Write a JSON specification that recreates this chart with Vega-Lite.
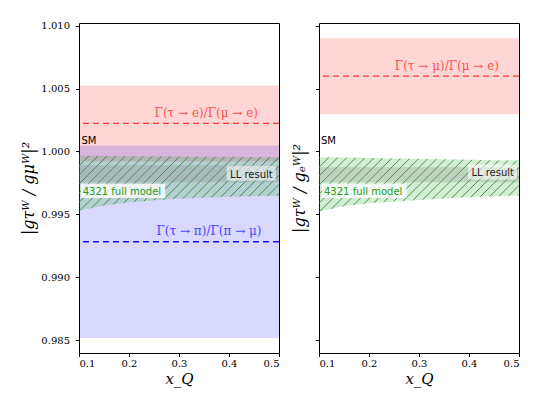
{
 "$schema": "https://vega.github.io/schema/vega-lite/v6.json",
 "background": "white",
 "padding": {"left": 20, "top": 20, "right": 5, "bottom": 5},
 "spacing": 9,
 "datasets": {
  "bands": [
   {"panel": "L", "kind": "red", "x0": 0.1, "x1": 0.5, "lo": 0.99921, "hi": 1.00525, "mid": 1.00223},
   {"panel": "L", "kind": "blue", "x0": 0.1, "x1": 0.5, "lo": 0.98516, "hi": 1.00048, "mid": 0.99282},
   {"panel": "L", "kind": "LL", "x0": 0.1, "x1": 0.5, "lo": 0.99755, "hi": 0.9989},
   {"panel": "R", "kind": "red", "x0": 0.1, "x1": 0.5, "lo": 1.00297, "hi": 1.00901, "mid": 1.00599},
   {"panel": "R", "kind": "LL", "x0": 0.1, "x1": 0.5, "lo": 0.99755, "hi": 0.99875}
  ],
  "model": [
   {"panel": "L", "xq": 0.1, "top": 0.99966, "bottom": 0.99529},
   {"panel": "L", "xq": 0.15, "top": 0.99965, "bottom": 0.9957},
   {"panel": "L", "xq": 0.2, "top": 0.99963, "bottom": 0.99595},
   {"panel": "L", "xq": 0.25, "top": 0.99962, "bottom": 0.99612},
   {"panel": "L", "xq": 0.3, "top": 0.9996, "bottom": 0.99624},
   {"panel": "L", "xq": 0.35, "top": 0.99959, "bottom": 0.99632},
   {"panel": "L", "xq": 0.4, "top": 0.99958, "bottom": 0.99639},
   {"panel": "L", "xq": 0.45, "top": 0.99956, "bottom": 0.99644},
   {"panel": "L", "xq": 0.5, "top": 0.99955, "bottom": 0.99648},
   {"panel": "R", "xq": 0.1, "top": 0.99955, "bottom": 0.99523},
   {"panel": "R", "xq": 0.15, "top": 0.99952, "bottom": 0.99565},
   {"panel": "R", "xq": 0.2, "top": 0.99948, "bottom": 0.99588},
   {"panel": "R", "xq": 0.25, "top": 0.99945, "bottom": 0.99602},
   {"panel": "R", "xq": 0.3, "top": 0.99942, "bottom": 0.99615},
   {"panel": "R", "xq": 0.35, "top": 0.99938, "bottom": 0.99626},
   {"panel": "R", "xq": 0.4, "top": 0.99935, "bottom": 0.99635},
   {"panel": "R", "xq": 0.45, "top": 0.99931, "bottom": 0.99643},
   {"panel": "R", "xq": 0.5, "top": 0.99928, "bottom": 0.9965}
  ],
  "labels": [
   {"panel": "L", "kind": "sm", "text": "SM", "x": 0.1048, "y": 1.00061},
   {"panel": "L", "kind": "red", "text": "Γ(τ → e)/Γ(μ → e)", "x": 0.458, "y": 1.00272},
   {"panel": "L", "kind": "blue", "text": "Γ(τ → π)/Γ(π → μ)", "x": 0.465, "y": 0.99334},
   {"panel": "L", "kind": "model", "text": "4321 full model", "x": 0.1074, "y": 0.99656},
   {"panel": "L", "kind": "ll", "text": "LL result", "x": 0.4874, "y": 0.99791},
   {"panel": "R", "kind": "sm", "text": "SM", "x": 0.104, "y": 1.00061},
   {"panel": "R", "kind": "red", "text": "Γ(τ → μ)/Γ(μ → e)", "x": 0.46, "y": 1.00645},
   {"panel": "R", "kind": "model", "text": "4321 full model", "x": 0.11, "y": 0.99656},
   {"panel": "R", "kind": "ll", "text": "LL result", "x": 0.49, "y": 0.99801}
  ]
 },
 "config": {
  "view": {"stroke": "black", "strokeWidth": 1},
  "axis": {"domain": false, "grid": false, "tickColor": "black", "tickSize": 3.5, "labelColor": "black", "titleColor": "black", "labelFont": "DejaVu Serif", "labelFontSize": 10, "titleFont": "DejaVu Serif", "titleFontWeight": "normal", "titleFontStyle": "italic"},
  "area": {"fill": {"gradient": "linear", "x1": 0, "y1": 0, "x2": 1.1854, "y2": 0.326, "stops": [
   {"offset": 0, "color": "rgba(44,160,44,0.2)"}, {"offset": 0.004, "color": "rgba(34,145,34,0.9)"}, {"offset": 0.008, "color": "rgba(44,160,44,0.2)"},
   {"offset": 0.0357, "color": "rgba(44,160,44,0.2)"}, {"offset": 0.0397, "color": "rgba(34,145,34,0.9)"}, {"offset": 0.0437, "color": "rgba(44,160,44,0.2)"},
   {"offset": 0.0714, "color": "rgba(44,160,44,0.2)"}, {"offset": 0.0754, "color": "rgba(34,145,34,0.9)"}, {"offset": 0.0794, "color": "rgba(44,160,44,0.2)"},
   {"offset": 0.1071, "color": "rgba(44,160,44,0.2)"}, {"offset": 0.1111, "color": "rgba(34,145,34,0.9)"}, {"offset": 0.1151, "color": "rgba(44,160,44,0.2)"},
   {"offset": 0.1429, "color": "rgba(44,160,44,0.2)"}, {"offset": 0.1469, "color": "rgba(34,145,34,0.9)"}, {"offset": 0.1509, "color": "rgba(44,160,44,0.2)"},
   {"offset": 0.1786, "color": "rgba(44,160,44,0.2)"}, {"offset": 0.1826, "color": "rgba(34,145,34,0.9)"}, {"offset": 0.1866, "color": "rgba(44,160,44,0.2)"},
   {"offset": 0.2143, "color": "rgba(44,160,44,0.2)"}, {"offset": 0.2183, "color": "rgba(34,145,34,0.9)"}, {"offset": 0.2223, "color": "rgba(44,160,44,0.2)"},
   {"offset": 0.25, "color": "rgba(44,160,44,0.2)"}, {"offset": 0.254, "color": "rgba(34,145,34,0.9)"}, {"offset": 0.258, "color": "rgba(44,160,44,0.2)"},
   {"offset": 0.2857, "color": "rgba(44,160,44,0.2)"}, {"offset": 0.2897, "color": "rgba(34,145,34,0.9)"}, {"offset": 0.2937, "color": "rgba(44,160,44,0.2)"},
   {"offset": 0.3214, "color": "rgba(44,160,44,0.2)"}, {"offset": 0.3254, "color": "rgba(34,145,34,0.9)"}, {"offset": 0.3294, "color": "rgba(44,160,44,0.2)"},
   {"offset": 0.3571, "color": "rgba(44,160,44,0.2)"}, {"offset": 0.3611, "color": "rgba(34,145,34,0.9)"}, {"offset": 0.3651, "color": "rgba(44,160,44,0.2)"},
   {"offset": 0.3929, "color": "rgba(44,160,44,0.2)"}, {"offset": 0.3969, "color": "rgba(34,145,34,0.9)"}, {"offset": 0.4009, "color": "rgba(44,160,44,0.2)"},
   {"offset": 0.4286, "color": "rgba(44,160,44,0.2)"}, {"offset": 0.4326, "color": "rgba(34,145,34,0.9)"}, {"offset": 0.4366, "color": "rgba(44,160,44,0.2)"},
   {"offset": 0.4643, "color": "rgba(44,160,44,0.2)"}, {"offset": 0.4683, "color": "rgba(34,145,34,0.9)"}, {"offset": 0.4723, "color": "rgba(44,160,44,0.2)"},
   {"offset": 0.5, "color": "rgba(44,160,44,0.2)"}, {"offset": 0.504, "color": "rgba(34,145,34,0.9)"}, {"offset": 0.508, "color": "rgba(44,160,44,0.2)"},
   {"offset": 0.5357, "color": "rgba(44,160,44,0.2)"}, {"offset": 0.5397, "color": "rgba(34,145,34,0.9)"}, {"offset": 0.5437, "color": "rgba(44,160,44,0.2)"},
   {"offset": 0.5714, "color": "rgba(44,160,44,0.2)"}, {"offset": 0.5754, "color": "rgba(34,145,34,0.9)"}, {"offset": 0.5794, "color": "rgba(44,160,44,0.2)"},
   {"offset": 0.6071, "color": "rgba(44,160,44,0.2)"}, {"offset": 0.6111, "color": "rgba(34,145,34,0.9)"}, {"offset": 0.6151, "color": "rgba(44,160,44,0.2)"},
   {"offset": 0.6429, "color": "rgba(44,160,44,0.2)"}, {"offset": 0.6469, "color": "rgba(34,145,34,0.9)"}, {"offset": 0.6509, "color": "rgba(44,160,44,0.2)"},
   {"offset": 0.6786, "color": "rgba(44,160,44,0.2)"}, {"offset": 0.6826, "color": "rgba(34,145,34,0.9)"}, {"offset": 0.6866, "color": "rgba(44,160,44,0.2)"},
   {"offset": 0.7143, "color": "rgba(44,160,44,0.2)"}, {"offset": 0.7183, "color": "rgba(34,145,34,0.9)"}, {"offset": 0.7223, "color": "rgba(44,160,44,0.2)"},
   {"offset": 0.75, "color": "rgba(44,160,44,0.2)"}, {"offset": 0.754, "color": "rgba(34,145,34,0.9)"}, {"offset": 0.758, "color": "rgba(44,160,44,0.2)"},
   {"offset": 0.7857, "color": "rgba(44,160,44,0.2)"}, {"offset": 0.7897, "color": "rgba(34,145,34,0.9)"}, {"offset": 0.7937, "color": "rgba(44,160,44,0.2)"},
   {"offset": 0.8214, "color": "rgba(44,160,44,0.2)"}, {"offset": 0.8254, "color": "rgba(34,145,34,0.9)"}, {"offset": 0.8294, "color": "rgba(44,160,44,0.2)"},
   {"offset": 0.8571, "color": "rgba(44,160,44,0.2)"}, {"offset": 0.8611, "color": "rgba(34,145,34,0.9)"}, {"offset": 0.8651, "color": "rgba(44,160,44,0.2)"},
   {"offset": 0.8929, "color": "rgba(44,160,44,0.2)"}, {"offset": 0.8969, "color": "rgba(34,145,34,0.9)"}, {"offset": 0.9009, "color": "rgba(44,160,44,0.2)"},
   {"offset": 0.9286, "color": "rgba(44,160,44,0.2)"}, {"offset": 0.9326, "color": "rgba(34,145,34,0.9)"}, {"offset": 0.9366, "color": "rgba(44,160,44,0.2)"},
   {"offset": 0.9643, "color": "rgba(44,160,44,0.2)"}, {"offset": 0.9683, "color": "rgba(34,145,34,0.9)"}, {"offset": 0.9723, "color": "rgba(44,160,44,0.2)"},
   {"offset": 1, "color": "rgba(44,160,44,0.2)"}
  ]}}
 },
 "hconcat": [
  {
   "width": 200, "height": 330,
   "layer": [
    {"data": {"name": "bands"}, "transform": [{"filter": "datum.panel === 'L' && datum.kind === 'red'"}],
     "mark": {"type": "rect", "color": "#ff0000", "opacity": 0.16},
     "encoding": {
      "x": {"field": "x0", "type": "quantitative", "scale": {"domain": [0.1, 0.5], "nice": false, "zero": false},
            "axis": {"values": [0.1, 0.2, 0.3, 0.4, 0.5], "format": ".1f", "title": "x_Q", "labelPadding": 2, "titlePadding": 3, "titleFontSize": 15}},
      "x2": {"field": "x1"},
      "y": {"field": "lo", "type": "quantitative", "scale": {"domain": [0.98397, 1.01022], "nice": false, "zero": false},
            "axis": {"values": [0.985, 0.99, 0.995, 1, 1.005, 1.01], "format": ".3f", "title": "|gτᵂ / gμᵂ|²", "titleFontSize": 16, "labelPadding": 6, "titlePadding": 4}},
      "y2": {"field": "hi"}
     }},
    {"data": {"name": "bands"}, "transform": [{"filter": "datum.panel === 'L' && datum.kind === 'blue'"}],
     "mark": {"type": "rect", "color": "#0000ff", "opacity": 0.15},
     "encoding": {"x": {"field": "x0", "type": "quantitative"}, "x2": {"field": "x1"}, "y": {"field": "lo", "type": "quantitative"}, "y2": {"field": "hi"}}},
    {"data": {"name": "model"}, "transform": [{"filter": "datum.panel === 'L'"}],
     "mark": {"type": "area"},
     "encoding": {"x": {"field": "xq", "type": "quantitative"}, "y": {"field": "top", "type": "quantitative"}, "y2": {"field": "bottom"}}},
    {"data": {"name": "bands"}, "transform": [{"filter": "datum.panel === 'L' && datum.kind === 'LL'"}],
     "mark": {"type": "rect", "color": "#808080", "opacity": 0.25},
     "encoding": {"x": {"field": "x0", "type": "quantitative"}, "x2": {"field": "x1"}, "y": {"field": "lo", "type": "quantitative"}, "y2": {"field": "hi"}}},
    {"mark": {"type": "rule", "color": "black", "strokeWidth": 1.2},
     "encoding": {"y": {"datum": 1}}},
    {"data": {"name": "bands"}, "transform": [{"filter": "datum.panel === 'L' && datum.kind === 'red'"}],
     "mark": {"type": "rule", "color": "#ff3535", "strokeWidth": 1.3, "strokeDash": [6, 4]},
     "encoding": {"y": {"field": "mid", "type": "quantitative"}}},
    {"data": {"name": "bands"}, "transform": [{"filter": "datum.panel === 'L' && datum.kind === 'blue'"}],
     "mark": {"type": "rule", "color": "#1010ff", "strokeWidth": 1.3, "strokeDash": [6, 4]},
     "encoding": {"y": {"field": "mid", "type": "quantitative"}}},
    {"data": {"name": "labels"}, "transform": [{"filter": "datum.panel === 'L' && datum.kind === 'model'"}],
     "mark": {"type": "point", "shape": "M-0.2,-1.1L8.25,-1.1L8.25,0.33L-0.2,0.33Z", "size": 400, "filled": true, "color": "white", "opacity": 0.8, "strokeWidth": 0},
     "encoding": {"x": {"field": "x", "type": "quantitative"}, "y": {"field": "y", "type": "quantitative"}}},
    {"data": {"name": "labels"}, "transform": [{"filter": "datum.panel === 'L' && datum.kind === 'll'"}],
     "mark": {"type": "point", "shape": "M-4.6,-1.2L0.3,-1.2L0.3,0.3L-4.6,0.3Z", "size": 400, "filled": true, "color": "white", "opacity": 0.55, "strokeWidth": 0},
     "encoding": {"x": {"field": "x", "type": "quantitative"}, "y": {"field": "y", "type": "quantitative"}}},
    {"data": {"name": "labels"}, "transform": [{"filter": "datum.panel === 'L' && datum.kind === 'sm'"}],
     "mark": {"type": "text", "align": "left", "baseline": "alphabetic", "font": "DejaVu Sans", "fontSize": 10, "color": "black"},
     "encoding": {"x": {"field": "x", "type": "quantitative"}, "y": {"field": "y", "type": "quantitative"}, "text": {"field": "text"}}},
    {"data": {"name": "labels"}, "transform": [{"filter": "datum.panel === 'L' && datum.kind === 'red'"}],
     "mark": {"type": "text", "align": "right", "baseline": "alphabetic", "font": "DejaVu Serif", "fontSize": 12, "color": "#ff5050"},
     "encoding": {"x": {"field": "x", "type": "quantitative"}, "y": {"field": "y", "type": "quantitative"}, "text": {"field": "text"}}},
    {"data": {"name": "labels"}, "transform": [{"filter": "datum.panel === 'L' && datum.kind === 'blue'"}],
     "mark": {"type": "text", "align": "right", "baseline": "alphabetic", "font": "DejaVu Serif", "fontSize": 12, "color": "#4545ff"},
     "encoding": {"x": {"field": "x", "type": "quantitative"}, "y": {"field": "y", "type": "quantitative"}, "text": {"field": "text"}}},
    {"data": {"name": "labels"}, "transform": [{"filter": "datum.panel === 'L' && datum.kind === 'model'"}],
     "mark": {"type": "text", "align": "left", "baseline": "alphabetic", "font": "DejaVu Sans", "fontSize": 10, "color": "#239b23"},
     "encoding": {"x": {"field": "x", "type": "quantitative"}, "y": {"field": "y", "type": "quantitative"}, "text": {"field": "text"}}},
    {"data": {"name": "labels"}, "transform": [{"filter": "datum.panel === 'L' && datum.kind === 'll'"}],
     "mark": {"type": "text", "align": "right", "baseline": "alphabetic", "font": "DejaVu Sans", "fontSize": 10, "color": "#222222"},
     "encoding": {"x": {"field": "x", "type": "quantitative"}, "y": {"field": "y", "type": "quantitative"}, "text": {"field": "text"}}}
   ]
  },
  {
   "width": 200, "height": 330,
   "layer": [
    {"data": {"name": "bands"}, "transform": [{"filter": "datum.panel === 'R' && datum.kind === 'red'"}],
     "mark": {"type": "rect", "color": "#ff0000", "opacity": 0.16},
     "encoding": {
      "x": {"field": "x0", "type": "quantitative", "scale": {"domain": [0.1, 0.5], "nice": false, "zero": false},
            "axis": {"values": [0.1, 0.2, 0.3, 0.4, 0.5], "format": ".1f", "title": "x_Q", "labelPadding": 2, "titlePadding": 3, "titleFontSize": 15}},
      "x2": {"field": "x1"},
      "y": {"field": "lo", "type": "quantitative", "scale": {"domain": [0.98397, 1.01022], "nice": false, "zero": false},
            "axis": {"values": [0.985, 0.99, 0.995, 1, 1.005, 1.01], "labels": false, "title": "|gτᵂ / gₑᵂ|²", "titleFontSize": 16, "titlePadding": 8}},
      "y2": {"field": "hi"}
     }},
    {"data": {"name": "model"}, "transform": [{"filter": "datum.panel === 'R'"}],
     "mark": {"type": "area"},
     "encoding": {"x": {"field": "xq", "type": "quantitative"}, "y": {"field": "top", "type": "quantitative"}, "y2": {"field": "bottom"}}},
    {"data": {"name": "bands"}, "transform": [{"filter": "datum.panel === 'R' && datum.kind === 'LL'"}],
     "mark": {"type": "rect", "color": "#808080", "opacity": 0.25},
     "encoding": {"x": {"field": "x0", "type": "quantitative"}, "x2": {"field": "x1"}, "y": {"field": "lo", "type": "quantitative"}, "y2": {"field": "hi"}}},
    {"mark": {"type": "rule", "color": "black", "strokeWidth": 1.2},
     "encoding": {"y": {"datum": 1}}},
    {"data": {"name": "bands"}, "transform": [{"filter": "datum.panel === 'R' && datum.kind === 'red'"}],
     "mark": {"type": "rule", "color": "#ff3535", "strokeWidth": 1.3, "strokeDash": [6, 4]},
     "encoding": {"y": {"field": "mid", "type": "quantitative"}}},
    {"data": {"name": "labels"}, "transform": [{"filter": "datum.panel === 'R' && datum.kind === 'model'"}],
     "mark": {"type": "point", "shape": "M-0.2,-1.1L8.25,-1.1L8.25,0.33L-0.2,0.33Z", "size": 400, "filled": true, "color": "white", "opacity": 0.8, "strokeWidth": 0},
     "encoding": {"x": {"field": "x", "type": "quantitative"}, "y": {"field": "y", "type": "quantitative"}}},
    {"data": {"name": "labels"}, "transform": [{"filter": "datum.panel === 'R' && datum.kind === 'll'"}],
     "mark": {"type": "point", "shape": "M-4.6,-1.2L0.3,-1.2L0.3,0.3L-4.6,0.3Z", "size": 400, "filled": true, "color": "white", "opacity": 0.55, "strokeWidth": 0},
     "encoding": {"x": {"field": "x", "type": "quantitative"}, "y": {"field": "y", "type": "quantitative"}}},
    {"data": {"name": "labels"}, "transform": [{"filter": "datum.panel === 'R' && datum.kind === 'sm'"}],
     "mark": {"type": "text", "align": "left", "baseline": "alphabetic", "font": "DejaVu Sans", "fontSize": 10, "color": "black"},
     "encoding": {"x": {"field": "x", "type": "quantitative"}, "y": {"field": "y", "type": "quantitative"}, "text": {"field": "text"}}},
    {"data": {"name": "labels"}, "transform": [{"filter": "datum.panel === 'R' && datum.kind === 'red'"}],
     "mark": {"type": "text", "align": "right", "baseline": "alphabetic", "font": "DejaVu Serif", "fontSize": 12, "color": "#ff5050"},
     "encoding": {"x": {"field": "x", "type": "quantitative"}, "y": {"field": "y", "type": "quantitative"}, "text": {"field": "text"}}},
    {"data": {"name": "labels"}, "transform": [{"filter": "datum.panel === 'R' && datum.kind === 'model'"}],
     "mark": {"type": "text", "align": "left", "baseline": "alphabetic", "font": "DejaVu Sans", "fontSize": 10, "color": "#239b23"},
     "encoding": {"x": {"field": "x", "type": "quantitative"}, "y": {"field": "y", "type": "quantitative"}, "text": {"field": "text"}}},
    {"data": {"name": "labels"}, "transform": [{"filter": "datum.panel === 'R' && datum.kind === 'll'"}],
     "mark": {"type": "text", "align": "right", "baseline": "alphabetic", "font": "DejaVu Sans", "fontSize": 10, "color": "#222222"},
     "encoding": {"x": {"field": "x", "type": "quantitative"}, "y": {"field": "y", "type": "quantitative"}, "text": {"field": "text"}}}
   ]
  }
 ]
}
